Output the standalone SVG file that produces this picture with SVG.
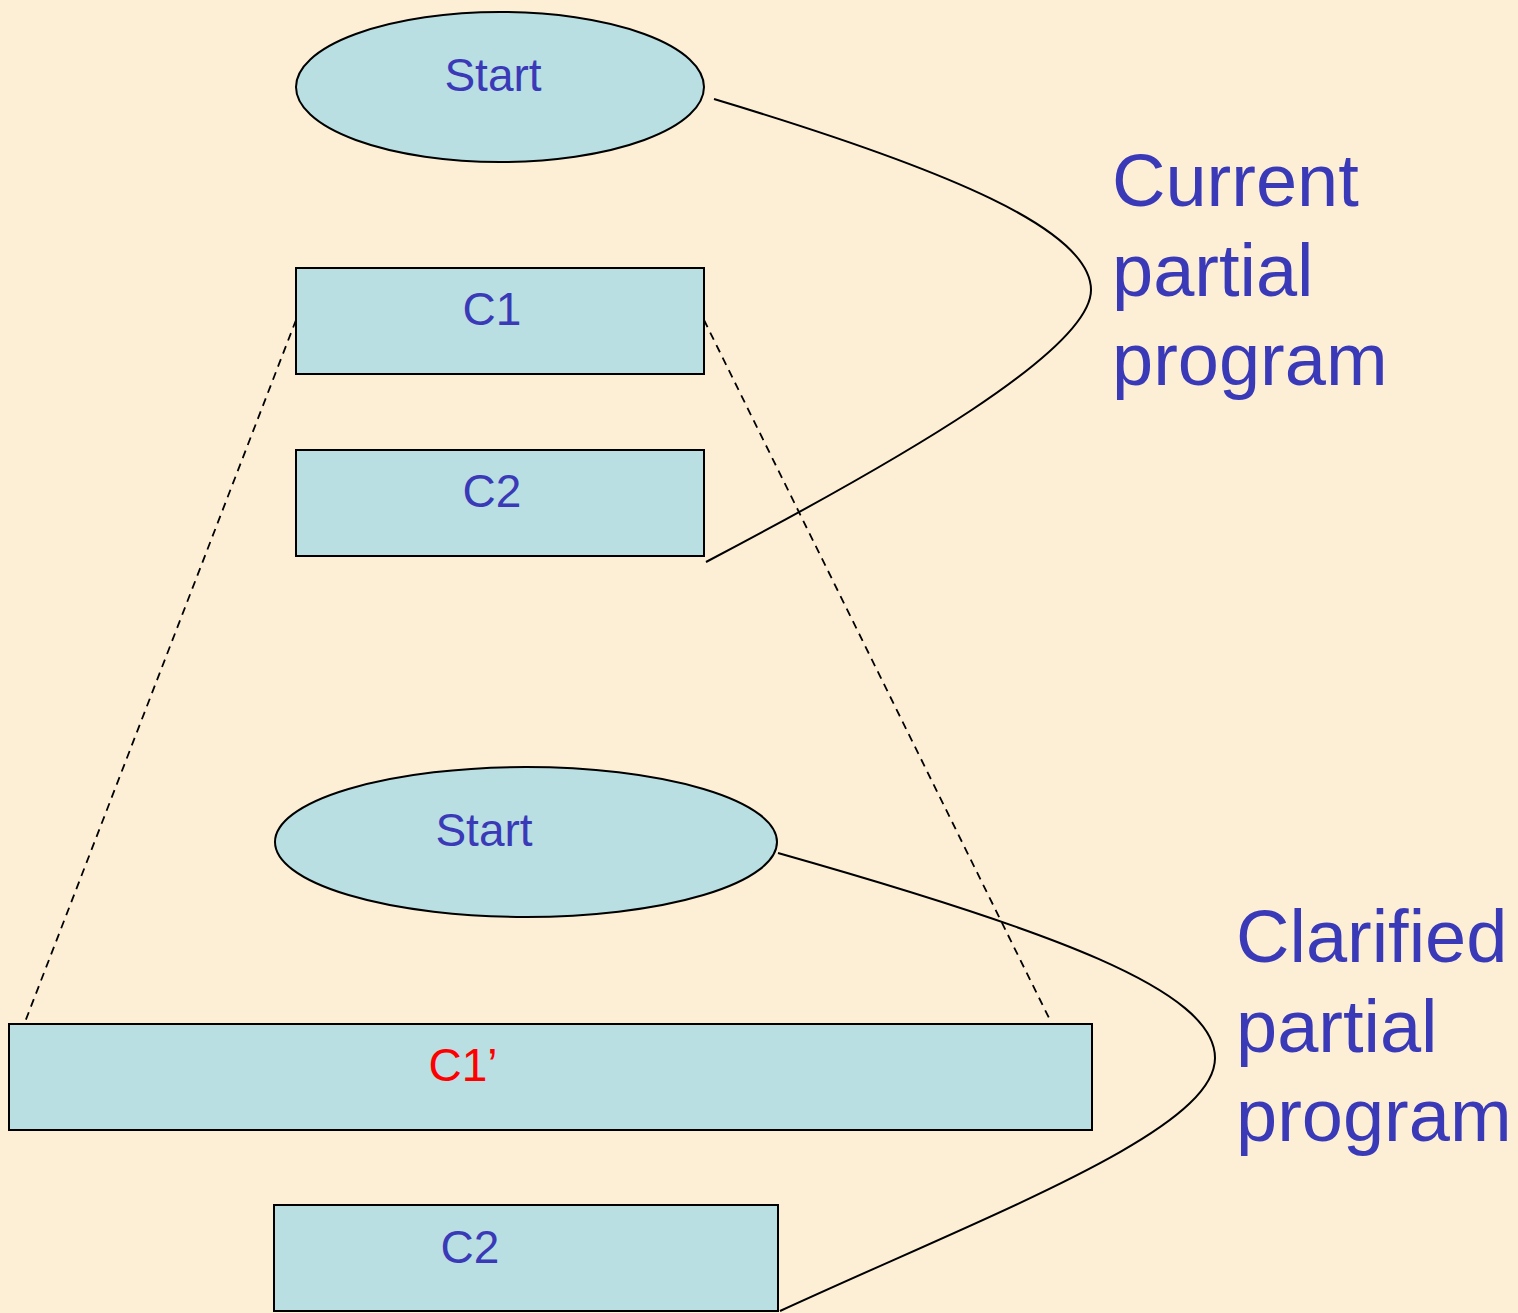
<svg xmlns="http://www.w3.org/2000/svg" width="1518" height="1313" viewBox="0 0 1518 1313">
<style>
.shape{fill:#b9dfe2;stroke:#000;stroke-width:2}
.lbl{font-family:"Liberation Sans",Arial,sans-serif;font-size:46px;fill:#3a3ab8;text-anchor:middle}
.big{font-family:"Liberation Sans",Arial,sans-serif;font-size:74px;fill:#3a3ab8}
.brace{fill:none;stroke:#000;stroke-width:2}
.dash{fill:none;stroke:#000;stroke-width:1.8;stroke-dasharray:8,6}
</style>
<rect width="1518" height="1313" fill="#fcefd6"/>
<g id="connectors">
<path class="dash" d="M296,320 L25,1022"/>
<path class="dash" d="M704,320 L1050,1020"/>
<path class="brace" d="M714,99 C950,170 1091,230 1091,290 C1091,350 900,460 706,562"/>
<path class="brace" d="M778,853 C1050,930 1215,990 1215,1058 C1215,1130 1000,1210 780,1311"/>
</g>
<g id="start1"><ellipse class="shape" cx="500" cy="87" rx="204" ry="75"/><text class="lbl" x="493" y="91">Start</text></g>
<g id="c1"><rect class="shape" x="296" y="268" width="408" height="106"/><text class="lbl" x="492" y="325">C1</text></g>
<g id="c2"><rect class="shape" x="296" y="450" width="408" height="106"/><text class="lbl" x="492" y="507">C2</text></g>
<g id="start2"><ellipse class="shape" cx="526" cy="842" rx="251" ry="75"/><text class="lbl" x="484" y="846">Start</text></g>
<g id="c1prime"><rect class="shape" x="9" y="1024" width="1083" height="106"/><text class="lbl" x="463" y="1081" style="fill:#ff0000">C1’</text></g>
<g id="c2b"><rect class="shape" x="274" y="1205" width="504" height="106"/><text class="lbl" x="470" y="1263">C2</text></g>
<g id="label-current"><text class="big" x="1112" y="206">Current</text><text class="big" x="1112" y="296">partial</text><text class="big" x="1112" y="385">program</text></g>
<g id="label-clarified"><text class="big" x="1236" y="962">Clarified</text><text class="big" x="1236" y="1052">partial</text><text class="big" x="1236" y="1141">program</text></g>
</svg>
